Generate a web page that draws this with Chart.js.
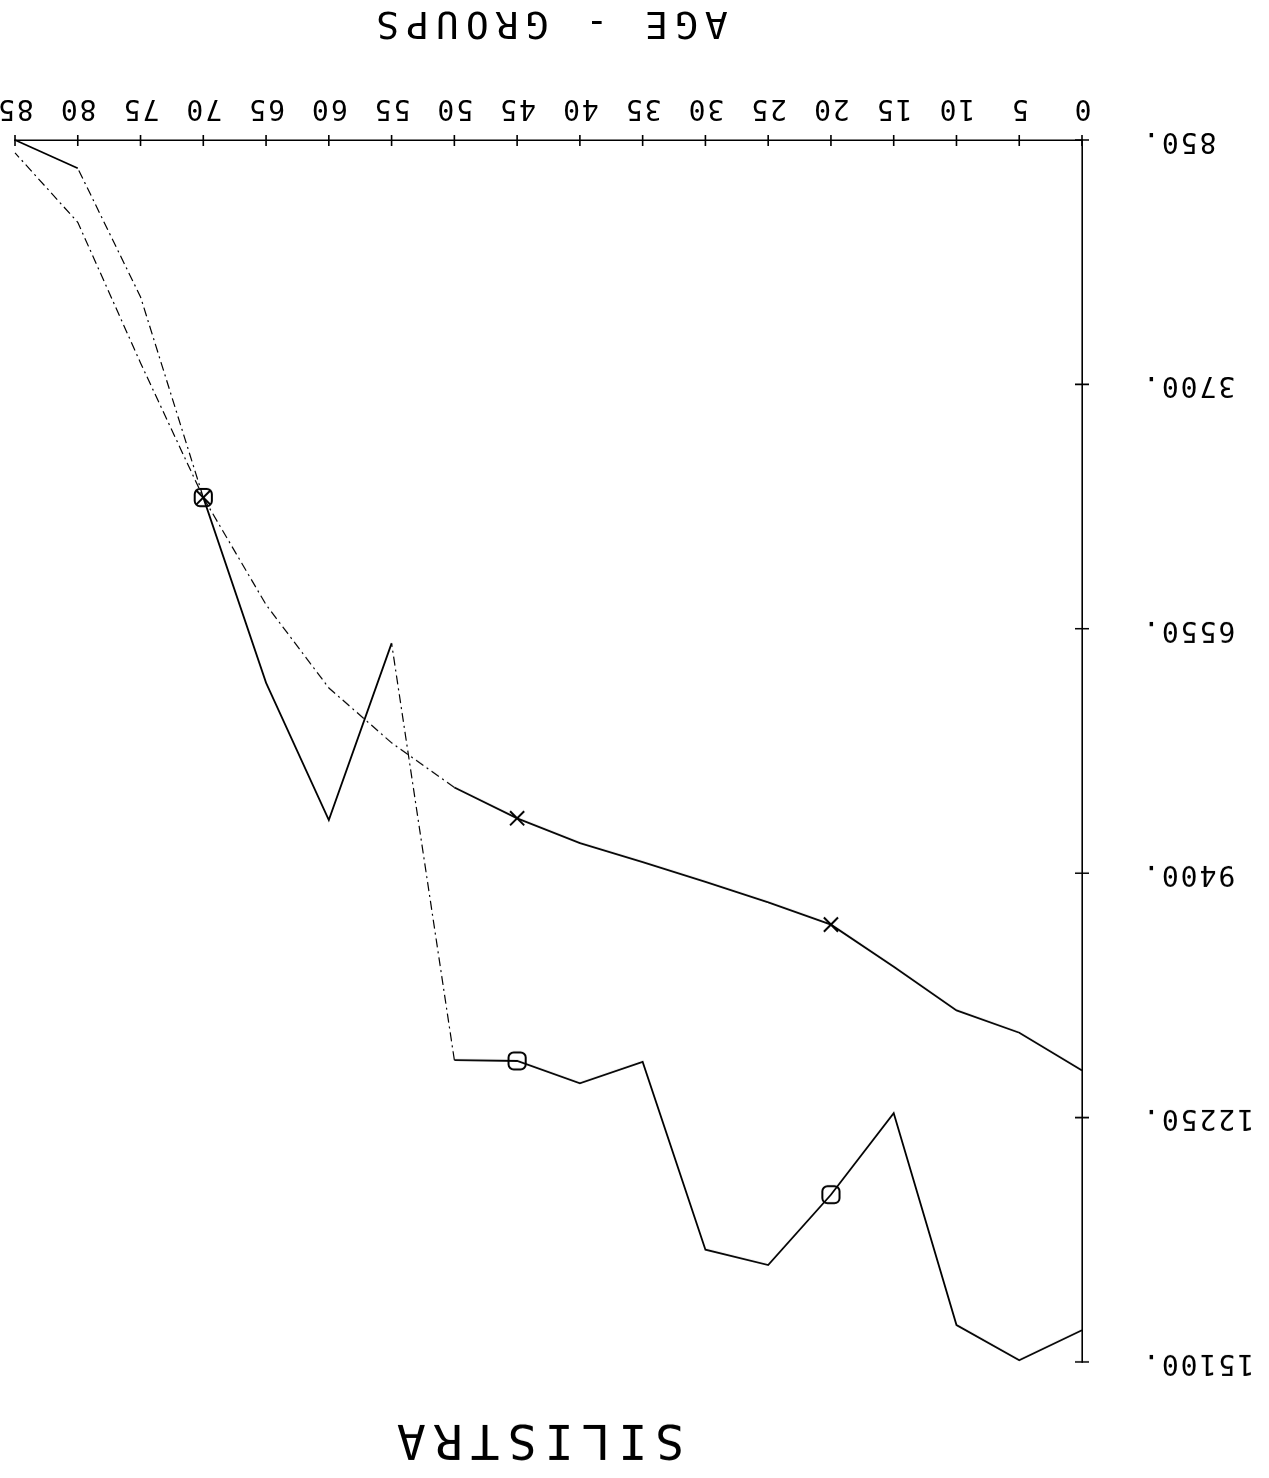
<!DOCTYPE html>
<html>
<head>
<meta charset="utf-8">
<script src="https://cdn.jsdelivr.net/npm/chart.js@4.4.1/dist/chart.umd.min.js"></script>
<style>
  html, body { margin: 0; padding: 0; background: #fff; }
  /* the plot sheet is mounted upside down */
  #sheet { width: 1269px; height: 1478px; transform: rotate(180deg); }
  canvas { display: block; }
</style>
</head>
<body>
<div id="sheet"><canvas id="plot" width="1269" height="1478"></canvas></div>
<script>
// Age groups (years) along the horizontal axis
const ageGroups = [0, 5, 10, 15, 20, 25, 30, 35, 40, 45, 50, 55, 60, 65, 70, 75, 80, 85];

// Smooth series (X markers)
const seriesCurve = [11700, 11260, 11000, 10490, 10000, 9740, 9500, 9270, 9050, 8760,
                     8400, 7880, 7240, 6270, 5020, 3450, 1810, 1000];

// Jagged series (square markers)
const seriesJagged = [14730, 15080, 14670, 12200, 13150, 13970, 13790, 11600, 11850, 11590,
                      11580, 6720, 8780, 7180, 5020, 2680, 1180, 850];

// Value axis ticks
const yTickValues = [850, 3700, 6550, 9400, 12250, 15100];

// Ages that carry a plot symbol
const markerAges = [20, 45, 70];

// Segments (by starting index) where the pen ran faint
const faintCurve = [10, 11, 12, 13, 14, 15, 16];
const faintJagged = [10, 14, 15];

const chartTitle = 'SILISTRA';
const xAxisTitle = 'AGE - GROUPS';

const FONT = 'DejaVu Sans Mono';
const INK = '#000';

const toPoints = vals => ageGroups.map((a, i) => ({ x: a, y: vals[i] }));

function markerRadius(r) {
  return ctx => markerAges.includes(ageGroups[ctx.dataIndex]) ? r : 0;
}

function faintSegments(list) {
  return {
    borderDash: ctx => list.includes(ctx.p0DataIndex) ? [9, 4, 2, 4] : undefined,
    borderWidth: ctx => list.includes(ctx.p0DataIndex) ? 1.2 : 1.8
  };
}

// Ticks drawn as small crosses through each axis line
const crossTicks = {
  id: 'crossTicks',
  afterDraw(chart) {
    const { ctx, chartArea, scales } = chart;
    ctx.save();
    ctx.strokeStyle = INK;
    ctx.lineWidth = 1.6;
    ctx.beginPath();
    scales.x.ticks.forEach(t => {
      const px = scales.x.getPixelForValue(t.value);
      ctx.moveTo(px, chartArea.bottom - 6);
      ctx.lineTo(px, chartArea.bottom + 5);
    });
    scales.y.ticks.forEach(t => {
      const py = scales.y.getPixelForValue(t.value);
      ctx.moveTo(chartArea.left - 7, py);
      ctx.lineTo(chartArea.left + 7, py);
    });
    ctx.stroke();
    ctx.restore();
  }
};

// Plotter lettering: wide-spaced capitals for the titles, spaced digits for tick labels
const lettering = {
  id: 'lettering',
  beforeDraw(chart) {
    chart.ctx.letterSpacing = '2px';
  },
  afterDraw(chart) {
    const { ctx, chartArea } = chart;
    const cx = (chartArea.left + chartArea.right) / 2;
    ctx.save();
    ctx.fillStyle = INK;
    ctx.textAlign = 'center';
    ctx.textBaseline = 'alphabetic';

    ctx.letterSpacing = '8px';
    ctx.font = '48px "' + FONT + '"';
    ctx.fillText(chartTitle, cx + 12, 53);

    ctx.letterSpacing = '7px';
    ctx.font = '38px "' + FONT + '"';
    ctx.fillText(xAxisTitle, cx, 1466);
    ctx.restore();
    ctx.letterSpacing = '0px';
  }
};

new Chart(document.getElementById('plot'), {
  type: 'line',
  data: {
    datasets: [
      {
        data: toPoints(seriesCurve),
        borderColor: INK,
        borderWidth: 1.8,
        tension: 0,
        pointStyle: 'crossRot',
        pointRadius: markerRadius(10),
        pointBorderWidth: 2,
        pointBorderColor: INK,
        pointBackgroundColor: 'rgba(0,0,0,0)',
        segment: faintSegments(faintCurve),
        clip: false
      },
      {
        data: toPoints(seriesJagged),
        borderColor: INK,
        borderWidth: 1.8,
        tension: 0,
        pointStyle: 'rectRounded',
        pointRadius: markerRadius(10),
        pointBorderWidth: 2,
        pointBorderColor: INK,
        pointBackgroundColor: 'rgba(0,0,0,0)',
        segment: faintSegments(faintJagged),
        clip: false
      }
    ]
  },
  options: {
    responsive: false,
    animation: false,
    devicePixelRatio: 1,
    layout: { padding: { left: 17, right: 15, top: 116, bottom: 0 } },
    plugins: {
      legend: { display: false },
      tooltip: { enabled: false },
      title: { display: false }
    },
    elements: { point: { hoverRadius: 0 } },
    scales: {
      x: {
        type: 'linear',
        position: 'bottom',
        min: 0,
        max: 85,
        grid: { display: false, drawTicks: false },
        border: { display: true, color: INK, width: 1.6 },
        afterBuildTicks: s => { s.ticks = ageGroups.map(v => ({ value: v })); },
        afterFit: s => { s.height = 140; s.paddingLeft = 0; s.paddingRight = 0; },
        ticks: {
          padding: 16,
          color: INK,
          maxRotation: 0,
          minRotation: 0,
          autoSkip: false,
          font: { family: FONT, size: 28 },
          callback: v => String(v)
        }
      },
      y: {
        type: 'linear',
        position: 'left',
        min: 850,
        max: 15100,
        grid: { display: false, drawTicks: false },
        border: { display: true, color: INK, width: 1.6 },
        afterBuildTicks: s => { s.ticks = yTickValues.map(v => ({ value: v })); },
        afterFit: s => { s.width = 170; s.paddingTop = 0; s.paddingBottom = 0; },
        ticks: {
          padding: 59,
          color: INK,
          autoSkip: false,
          font: { family: FONT, size: 28 },
          callback: v => v + '.'
        }
      }
    }
  },
  plugins: [crossTicks, lettering]
});
</script>
</body>
</html>
